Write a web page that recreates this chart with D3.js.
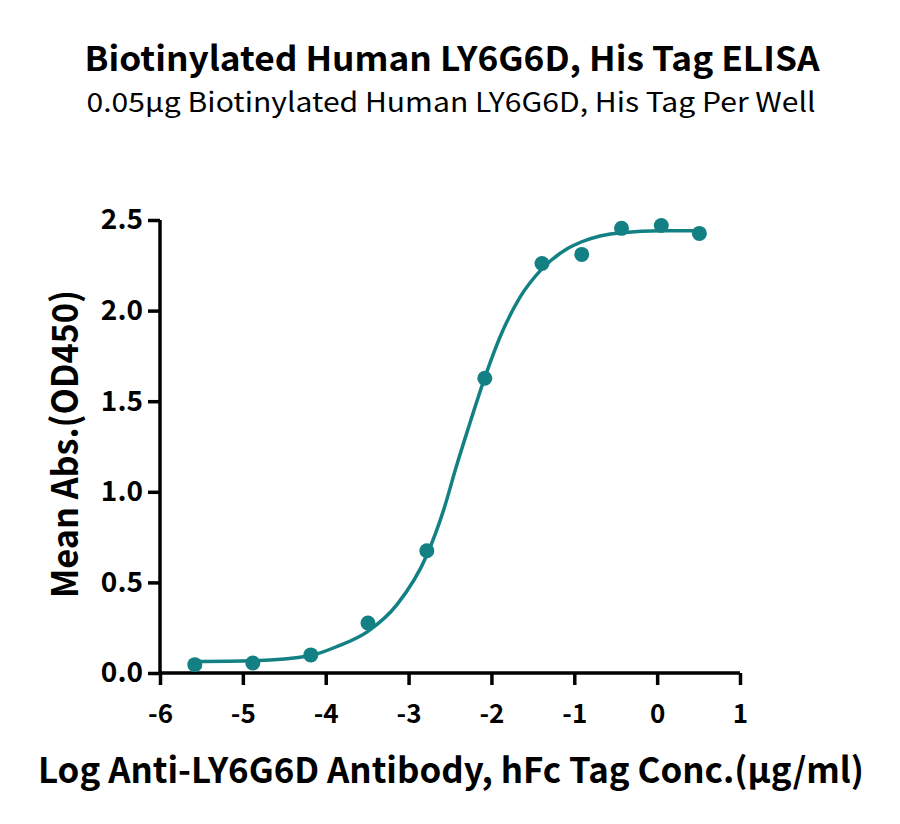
<!DOCTYPE html>
<html>
<head>
<meta charset="utf-8">
<script src="https://cdn.jsdelivr.net/npm/d3@7"></script>
<style>
  body { margin: 0; background: #fff; }
  text { font-family: "Noto Sans CJK SC", "Noto Sans", sans-serif; fill: #000; }
</style>
</head>
<body>
<div id="viz"></div>
<script>
var width = 900;
var height = 824;

// measured points: log conc (ug/ml) and mean OD450
var logConc = [-5.58, -4.88, -4.18, -3.49, -2.78, -2.08, -1.39, -0.91, -0.43, 0.05, 0.51];
var meanOD = [0.046, 0.055, 0.10, 0.276, 0.675, 1.627, 2.26, 2.31, 2.454, 2.47, 2.426];

// fitted curve
var curveX = [-5.58, -4.88, -4.18, -3.86, -3.49, -3.14, -2.78, -2.57, -2.43, -2.28, -2.08, -1.90, -1.66, -1.39, -1.09, -0.91, -0.43, 0.05, 0.51];
var curveY = [0.064, 0.068, 0.097, 0.147, 0.23, 0.377, 0.65, 0.91, 1.13, 1.35, 1.63, 1.85, 2.07, 2.23, 2.34, 2.38, 2.43, 2.44, 2.44];

var xTicks = [-6, -5, -4, -3, -2, -1, 0, 1];
var yTicks = [0, 0.5, 1.0, 1.5, 2.0, 2.5];

var teal = "#138184";

var svg = d3.select("#viz").append("svg")
   .attr("width", width)
   .attr("height", height);

var x = d3.scaleLinear().domain([-6, 1]).range([160, 740]);
var y = d3.scaleLinear().domain([0, 2.5]).range([673, 220]);

// Titles //

svg.append("text")
   .attr("x", 452)
   .attr("y", 71)
   .attr("text-anchor", "middle")
   .attr("textLength", 735)
   .attr("lengthAdjust", "spacingAndGlyphs")
   .style("font-size", "34px")
   .style("font-weight", "bold")
   .text("Biotinylated Human LY6G6D, His Tag ELISA");

svg.append("text")
   .attr("x", 451)
   .attr("y", 112)
   .attr("text-anchor", "middle")
   .attr("textLength", 729)
   .attr("lengthAdjust", "spacingAndGlyphs")
   .style("font-size", "27px")
   .text("0.05μg Biotinylated Human LY6G6D, His Tag Per Well");

// Axes //

var xAxis = svg.append("g")
   .attr("transform", "translate(0," + y(0) + ")")
   .call(d3.axisBottom(x).tickValues(xTicks).tickSize(12).tickPadding(20).tickFormat(d3.format("d")));

var yAxis = svg.append("g")
   .attr("transform", "translate(" + x(-6) + ",0)")
   .call(d3.axisLeft(y).tickValues(yTicks).tickSize(12).tickPadding(5).tickFormat(d3.format(".1f")));

[xAxis, yAxis].forEach(function(g) {
   g.select(".domain").attr("stroke", "#000").attr("stroke-width", 3.5);
   g.selectAll(".tick line").attr("stroke", "#000").attr("stroke-width", 3.5);
   g.selectAll(".tick text")
      .style("font-weight", "bold")
      .attr("fill", "#000");
});
xAxis.selectAll(".tick text").style("font-size", "26px");
yAxis.selectAll(".tick text").style("font-size", "28px");
xAxis.select(".domain").attr("d", "M" + x(-6) + ",0H" + x(1));
yAxis.select(".domain").attr("d", "M0," + y(2.5) + "V" + y(0));
// leading minus is a plain hyphen in the reference
xAxis.selectAll(".tick text").text(function(d) { return d < 0 ? "-" + Math.abs(d) : d; });

svg.append("text")
   .attr("transform", "translate(78,444) rotate(-90)")
   .attr("text-anchor", "middle")
   .attr("textLength", 308)
   .attr("lengthAdjust", "spacingAndGlyphs")
   .style("font-size", "36px")
   .style("font-weight", "bold")
   .text("Mean Abs.(OD450)");

svg.append("text")
   .attr("x", 451)
   .attr("y", 783)
   .attr("text-anchor", "middle")
   .attr("textLength", 826)
   .attr("lengthAdjust", "spacingAndGlyphs")
   .style("font-size", "35px")
   .style("font-weight", "bold")
   .text("Log Anti-LY6G6D Antibody, hFc Tag Conc.(μg/ml)");

// Curve and points //

var line = d3.line()
   .x(function(d, i) { return x(curveX[i]); })
   .y(function(d) { return y(d); })
   .curve(d3.curveMonotoneX);

svg.append("path")
   .datum(curveY)
   .attr("d", line)
   .attr("fill", "none")
   .attr("stroke", teal)
   .attr("stroke-width", 3.5);

svg.selectAll(".dot")
   .data(meanOD)
   .enter().append("circle")
   .attr("class", "dot")
   .attr("cx", function(d, i) { return x(logConc[i]); })
   .attr("cy", function(d) { return y(d); })
   .attr("r", 7.5)
   .attr("fill", teal);
</script>
</body>
</html>
